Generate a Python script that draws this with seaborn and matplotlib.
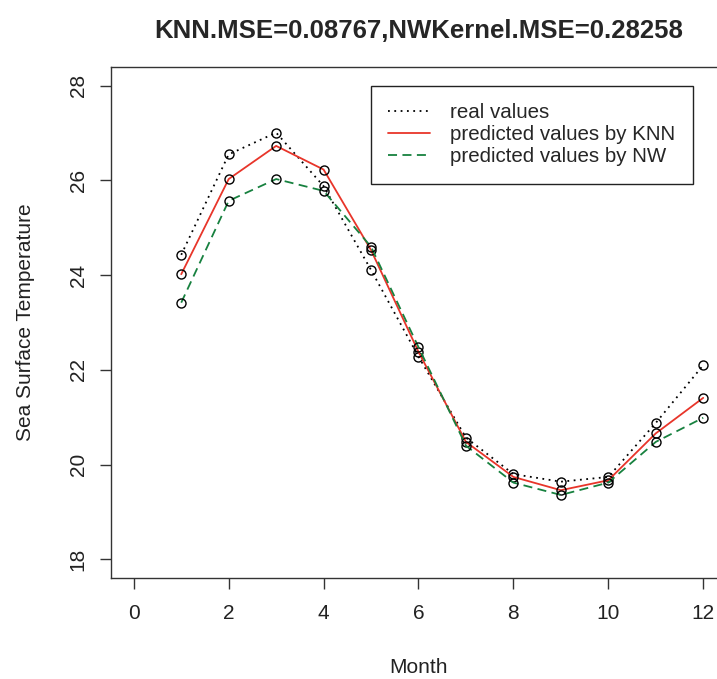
import matplotlib
matplotlib.use("Agg")
import matplotlib.pyplot as plt
import seaborn as sns
import pandas as pd
from matplotlib.lines import Line2D

months = list(range(1, 13))
real_values = [24.43, 26.55, 27.01, 25.88, 24.11, 22.28, 20.57, 19.80, 19.64, 19.74, 20.88, 22.10]
knn_values = [24.02, 26.03, 26.73, 26.23, 24.53, 22.38, 20.48, 19.74, 19.46, 19.67, 20.66, 21.41]
nw_values = [23.42, 25.57, 26.03, 25.78, 24.60, 22.48, 20.40, 19.62, 19.36, 19.62, 20.48, 20.99]

series_names = ["real values", "predicted values by KNN", "predicted values by NW"]
series_colors = ["black", "#e8352a", "#17813f"]
series_styles = [(0, (1, 2.5)), "-", (0, (5, 3))]

x_ticks = [0, 2, 4, 6, 8, 10, 12]
y_ticks = [18, 20, 22, 24, 26, 28]

title = "KNN.MSE=0.08767,NWKernel.MSE=0.28258"

sns.set_theme(style="ticks")
plt.rcParams["font.family"] = ["Liberation Sans", "DejaVu Sans"]

df = pd.DataFrame({
    "month": months * 3,
    "value": real_values + knn_values + nw_values,
    "series": [s for s in series_names for _ in months],
})

fig = plt.figure(figsize=(7.17, 6.79), dpi=100)
ax = fig.add_axes([111 / 717, 1 - 578.3 / 679, 615 / 717, 511.5 / 679])

for name, color, ls in zip(series_names, series_colors, series_styles):
    sub = df[df.series == name]
    sns.lineplot(
        data=sub, x="month", y="value", ax=ax,
        color=color, linestyle=ls, linewidth=1.3,
        marker="o", markersize=6.5, markerfacecolor="none",
        markeredgecolor="black", markeredgewidth=1.0,
        legend=False,
    )

ax.set_xlim(-0.48, 12.48)
ax.set_ylim(17.6, 28.4)
ax.set_xticks(x_ticks)
ax.set_yticks(y_ticks)
ax.tick_params(axis="both", direction="out", length=7.7, width=1.0,
               color="#333333", labelsize=15, labelcolor="#222222")
ax.tick_params(axis="x", pad=10.5)
ax.tick_params(axis="y", pad=9)
for lab in ax.get_yticklabels():
    lab.set_rotation(90)
    lab.set_verticalalignment("center")

for sp in ax.spines.values():
    sp.set_visible(True)
    sp.set_linewidth(1.0)
    sp.set_color("#333333")

ax.set_xlabel("Month", fontsize=15, color="#222222")
ax.set_ylabel("Sea Surface Temperature", fontsize=15, color="#222222")
ax.xaxis.set_label_coords(0.5, -0.155)
ax.yaxis.set_label_coords(-0.124, 0.5)

ax.set_title(title, fontsize=18.5, fontweight="bold", pad=20.5)

handles = [Line2D([0], [0], color=c, linestyle=ls, linewidth=1.3)
           for c, ls in zip(series_colors, series_styles)]
leg = ax.legend(handles, series_names, loc="upper left",
                bbox_to_anchor=((371 - 111) / 615, (578.3 - 85.7) / 511.5),
                fontsize=14.8, frameon=True, fancybox=False, framealpha=1,
                edgecolor="#222222", handlelength=2.0, handletextpad=1.0,
                borderpad=0.85, labelspacing=0.15, borderaxespad=0)
leg.get_frame().set_linewidth(1.0)

fig.savefig("out.png", dpi=100)
